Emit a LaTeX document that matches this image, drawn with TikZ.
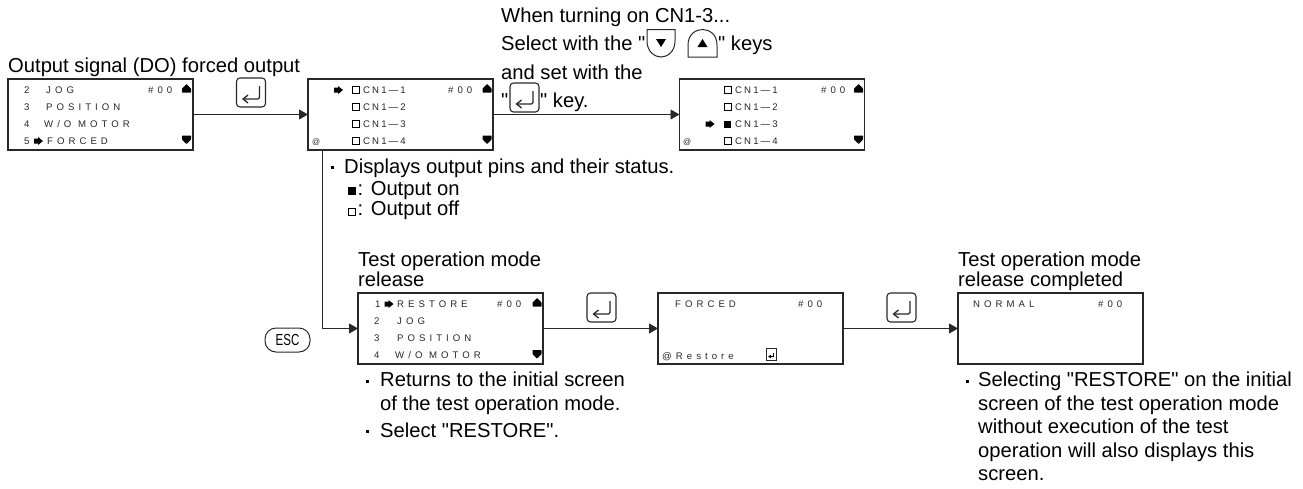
\documentclass[tikz,border=0pt]{standalone}
\usepackage{fontspec}
\setmainfont[Ligatures=TeXOff]{Liberation Sans}
\newfontfamily\lcdfont[LetterSpace=42]{Liberation Sans}
\newfontfamily\pinfont[LetterSpace=22]{Liberation Sans}
\usetikzlibrary{arrows.meta, positioning, calc}
\definecolor{linegray}{RGB}{40, 40, 40}
\tikzset{
  screenbox/.style={draw=linegray, line width=1.2pt, minimum width=185pt, minimum height=71pt, inner sep=0pt, outer sep=0pt, anchor=north west},
  lcd/.style={font=\lcdfont\fontsize{9.6}{9.6}\selectfont, text=black!85, inner sep=0pt, anchor=west, text height=6.8pt, text depth=0pt},
  pinlcd/.style={lcd, font=\pinfont\fontsize{9.6}{9.6}\selectfont},
  flowarrow/.style={draw=linegray, line width=0.9pt, -{Triangle[length=9pt, width=10pt]}},
  caption/.style={font=\fontsize{20.2}{20}\selectfont, inner sep=0pt, anchor=north west, align=left},
  listtext/.style={font=\fontsize{20.2}{24}\selectfont, inner sep=0pt, anchor=north west, align=left},
  linetext/.style={font=\fontsize{20.2}{20}\selectfont, inner sep=0pt, anchor=base west},
  bulletmark/.style={fill=black, inner sep=0pt, minimum size=3pt},
  lcdup/.pic={\fill[rounded corners=0.5pt] (-4.5,4.5) -- (-4.5,0.5) -- (0,-4) -- (4.5,0.5) -- (4.5,4.5) -- cycle;},
  lcddown/.pic={\fill[rounded corners=0.5pt] (-4.5,-4.5) -- (-4.5,-0.5) -- (0,4) -- (4.5,-0.5) -- (4.5,-4.5) -- cycle;},
  lcdarrow/.pic={\fill (-4.5,-2.5) -- (-0.5,-2.5) -- (-0.5,-4) -- (4.5,0) -- (-0.5,4) -- (-0.5,2.5) -- (-4.5,2.5) -- cycle;},
  enterkey/.pic={
    \draw[linegray, line width=1.1pt, rounded corners=3.5pt] (0,0) rectangle (29,29);
    \draw[linegray, line width=1.3pt, rounded corners=1.5pt, -{Straight Barb[length=5pt, width=8pt]}] (23,8) -- (23,21) -- (5.5,21);
  },
  smallenter/.pic={
    \draw[linegray, line width=0.9pt] (0,0) rectangle (10,12);
    \draw[line width=0.9pt, -{Latex[length=3pt, width=4pt]}] (7.5,5) -- (7.5,8.5) -- (2,8.5);
  }
}

\begin{document}
\begin{tikzpicture}[x=1pt, y=-1pt]
  \useasboundingbox (0,0) rectangle (1303,488);

  % Screens
  \node[screenbox] (scrForced) at (8,79) {};
  \node[screenbox] (scrPinsA) at (308,79) {};
  \node[screenbox] (scrPinsB) at (679.5,79) {};
  \node[screenbox] (scrRestore) at (358,293) {};
  \node[screenbox] (scrConfirm) at (658,293) {};
  \node[screenbox] (scrNormal) at (958,293) {};

  % Output signal screen
  \node[lcd] (fa1) at (24,90) {2};
  \node[lcd] (fa2) at (46,90) {JOG};
  \node[lcd] (fa3) at (148,90) {\#00};
  \node[lcd] (fb1) at (24,107) {3};
  \node[lcd] (fb2) at (46,107) {POSITION};
  \node[lcd] (fc1) at (24,124) {4};
  \node[lcd] (fc2) at (44,124) {W/O MOTOR};
  \node[lcd] (fd1) at (24,141) {5};
  \node[lcd] (fd2) at (47,141) {FORCED};
  \pic at (38.5,141) {lcdarrow};
  \pic at (186.5,88) {lcdup};
  \pic at (186.5,140) {lcddown};

  % Pin screen before selection
  \foreach \row/\rowy in {1/90, 2/107, 3/124, 4/141} {
    \draw[line width=0.6pt] (352,\rowy-3.5) rectangle (359,\rowy+3.5);
    \node[pinlcd] (pa\row) at (363,\rowy) {CN1—\row};
  }
  \node[lcd] (pa5) at (448,90) {\#00};
  \node[lcd, font=\fontsize{8}{8}\selectfont] (pa6) at (312,141) {@};
  \pic at (338.5,90) {lcdarrow};
  \pic at (487,88) {lcdup};
  \pic at (487,140) {lcddown};

  % Pin screen with CN1-3 set
  \foreach \row/\rowy in {1/90, 2/107, 4/141} {
    \draw[line width=0.6pt] (724,\rowy-3.5) rectangle (731,\rowy+3.5);
    \node[pinlcd] (pb\row) at (735,\rowy) {CN1—\row};
  }
  \fill (724,120.5) rectangle (731,127.5);
  \node[pinlcd] (pb3) at (735,124) {CN1—3};
  \node[lcd] (pb5) at (821,90) {\#00};
  \node[lcd, font=\fontsize{8}{8}\selectfont] (pb6) at (683,141) {@};
  \pic at (710,124) {lcdarrow};
  \pic at (858.5,88) {lcdup};
  \pic at (858.5,140) {lcddown};

  % Restore screen
  \node[lcd] (ra1) at (375,304) {1};
  \node[lcd] (ra2) at (397,304) {RESTORE};
  \node[lcd] (ra3) at (497,304) {\#00};
  \node[lcd] (rb1) at (374,321.5) {2};
  \node[lcd] (rb2) at (397,321.5) {JOG};
  \node[lcd] (rc1) at (374,338) {3};
  \node[lcd] (rc2) at (397,338) {POSITION};
  \node[lcd] (rd1) at (374,355) {4};
  \node[lcd] (rd2) at (395,355) {W/O MOTOR};
  \pic at (389,304) {lcdarrow};
  \pic at (537,302) {lcdup};
  \pic at (537,354.5) {lcddown};

  % Confirm and completed screens
  \node[lcd] (ca1) at (675,304) {FORCED};
  \node[lcd] (ca2) at (798,304) {\#00};
  \node[lcd] (ca3) at (662,356) {@Restore};
  \pic at (766,348) {smallenter};
  \node[lcd] (na1) at (973,304) {NORMAL};
  \node[lcd] (na2) at (1098,304) {\#00};

  % Keys
  \pic at (236.5,78) {enterkey};
  \pic at (587,293) {enterkey};
  \pic at (887,293) {enterkey};
  \node[draw=linegray, line width=1pt, rounded corners=11pt, minimum width=45pt, minimum height=24pt, inner sep=0pt] (esc) at (287.5,340) {\fontsize{16}{16}\selectfont\scalebox{0.72}[1]{ESC}};

  % Connectors
  \coordinate (drop) at (322,150);
  \draw[flowarrow] (scrForced) -- (scrPinsA);
  \draw[flowarrow] (scrPinsA) -- (scrPinsB);
  \draw[flowarrow] (drop) |- (scrRestore);
  \draw[flowarrow] (scrRestore) -- (scrConfirm);
  \draw[flowarrow] (scrConfirm) -- (scrNormal);

  % Top texts
  \node[linetext] (outTitle) at (8,72) {Output signal (DO) forced output};
  \node[linetext] (selA) at (501,22) {When turning on CN1-3...};
  \node[linetext] (selB) at (501,50) {Select with the "};
  \node[linetext] (selC) at (718,50) {" keys};
  \node[linetext] (selD) at (501,79) {and set with the};
  \node[linetext] (selE) at (501,107) {"};
  \node[linetext] (selF) at (540,107) {" key.};
  \pic at (510,83) {enterkey};

  % Up and down keys
  \draw[linegray, line width=1pt] (647,29.5) -- (675,29.5) -- (675,41) .. controls (675,52) and (667,57) .. (661,57) .. controls (655,57) and (647,52) .. (647,41) -- cycle;
  \fill (656,39) -- (666,39) -- (661,47) -- cycle;
  \draw[linegray, line width=1pt] (688,57) -- (717,57) -- (717,45) .. controls (717,34) and (709,29.5) .. (702.5,29.5) .. controls (696,29.5) and (688,34) .. (688,45) -- cycle;
  \fill (697.5,47) -- (707.5,47) -- (702.5,39) -- cycle;

  % Pin status notes
  \node[bulletmark] (noteMark) at (332.5,167) {};
  \node[linetext] (noteA) at (344,173) {Displays output pins and their status.};
  \fill (348,187) rectangle (355.5,195);
  \node[linetext] (noteB) at (357.5,195) {: Output on};
  \draw[line width=0.6pt] (348,208) rectangle (355.5,215);
  \node[linetext] (noteC) at (357.5,215) {: Output off};

  % Captions
  \node[caption] (capRestore) at (358,251.5) {Test operation mode\\release};
  \node[caption] (capNormal) at (958,251.5) {Test operation mode\\release completed};

  % Lower notes
  \node[bulletmark] (retMark) at (367.5,381) {};
  \node[listtext] (retText) at (380,372) {Returns to the initial screen\\of the test operation mode.};
  \node[bulletmark] (selMark) at (367.5,431) {};
  \node[linetext] (selText) at (380,437) {Select "RESTORE".};
  \node[bulletmark] (normMark) at (967.5,381) {};
  \node[listtext, font=\fontsize{20.2}{23.5}\selectfont] (normText) at (978,372) {Selecting "RESTORE" on the initial\\screen of the test operation mode\\without execution of the test\\operation will also displays this\\screen.};
\end{tikzpicture}
\end{document}
